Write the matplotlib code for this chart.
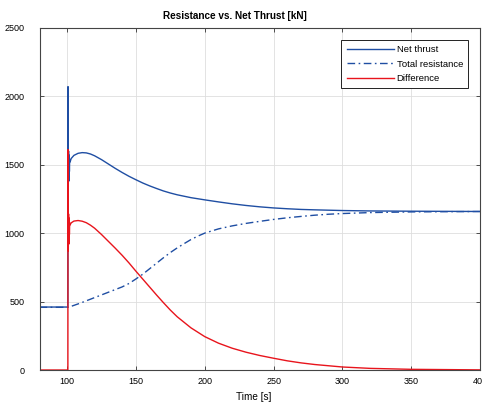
import matplotlib
matplotlib.use("Agg")
import matplotlib.pyplot as plt

plt.rcParams['font.family'] = ['Liberation Sans', 'DejaVu Sans']

# Net thrust [kN] over time [s]
t_thrust = [80, 100.6, 100.7, 100.9, 101.1, 101.3, 101.5, 101.7, 101.9, 102.2, 103,
            105, 108, 111, 114, 117, 120, 125, 130, 135, 140, 145, 150, 155, 160, 165,
            170, 175, 180, 190, 200, 210, 220, 230, 240, 250, 260, 270, 280, 300, 320,
            350, 400]
net_thrust = [460, 460, 2070, 1330, 1600, 1380, 1570, 1450, 1540, 1520, 1545,
              1568, 1583, 1588, 1586, 1578, 1565, 1537, 1505, 1473, 1443, 1415, 1390, 1366, 1345, 1326,
              1308, 1293, 1280, 1259, 1243, 1228, 1214, 1202, 1192, 1184, 1178, 1173, 1170, 1165, 1162,
              1160, 1158]

# Total resistance [kN]
t_resist = [80, 101, 110, 120, 130, 140, 145, 150, 155, 160, 165, 170, 175, 180, 185,
            190, 195, 200, 210, 220, 230, 240, 250, 260, 270, 280, 290, 300, 320, 350, 400]
total_resistance = [458, 458, 490, 529, 568, 607, 632, 665, 700, 740, 780, 820, 858, 892, 923,
                    953, 978, 1000, 1031, 1053, 1071, 1086, 1100, 1112, 1122, 1131, 1138, 1143, 1150, 1155, 1158]

# Difference between thrust and resistance [kN]
t_diff = [80, 100.6, 100.7, 100.9, 101.1, 101.3, 101.5, 101.7, 101.9, 102.2, 103,
          105, 108, 111, 114, 117, 120, 125, 130, 135, 140, 145, 150, 155, 160, 165,
          170, 175, 180, 190, 200, 210, 220, 230, 240, 250, 260, 270, 280, 300, 320,
          350, 400]
difference = [0, 0, 1610, 870, 1140, 920, 1110, 990, 1075, 1060, 1075,
              1088, 1092, 1087, 1076, 1058, 1036, 990, 940, 890, 838, 782, 722, 664, 606, 548,
              492, 438, 389, 308, 244, 196, 159, 130, 106, 86, 67, 52, 40, 22, 12,
              5, 1]

x_ticks = [100, 150, 200, 250, 300, 350, 400]
y_ticks = [0, 500, 1000, 1500, 2000, 2500]

blue = '#1f4ea3'
red = '#e8141c'

fig = plt.figure(figsize=(4.82, 4.05), dpi=100)
ax = fig.add_axes([0.082, 0.0864, 0.914, 0.845])

ax.plot(t_thrust, net_thrust, color=blue, lw=1.0, label='Net thrust')
ax.plot(t_resist, total_resistance, color=blue, lw=1.0,
        dashes=(5.5, 2.5, 1.2, 2.5), label='Total resistance')
ax.plot(t_diff, difference, color=red, lw=1.0, label='Difference')

ax.set_xlim(80, 400)
ax.set_ylim(0, 2500)
ax.set_xticks(x_ticks)
ax.set_yticks(y_ticks)
ax.tick_params(direction='in', top=True, right=True, labelsize=6.5, length=3,
               width=0.6, color='#333333', pad=5)
ax.tick_params(axis='y', pad=11)
ax.grid(True, color='#dedede', lw=0.6)
for s in ax.spines.values():
    s.set_color('#444444')
    s.set_linewidth(0.8)

ax.set_title('Resistance vs. Net Thrust [kN]', fontsize=7.2, fontweight='bold',
             pad=6, x=0.444)
ax.set_xlabel('Time [s]', fontsize=7.2, labelpad=4, x=0.485)

leg = ax.legend(loc='upper right', bbox_to_anchor=(0.973, 0.965), fontsize=6.8,
                handlelength=5.0, handletextpad=0.3, labelspacing=0.6,
                fancybox=False, framealpha=1, edgecolor='#222222',
                borderpad=0.55, borderaxespad=0)
leg.get_frame().set_linewidth(0.7)

fig.savefig('out.png', dpi=100)
